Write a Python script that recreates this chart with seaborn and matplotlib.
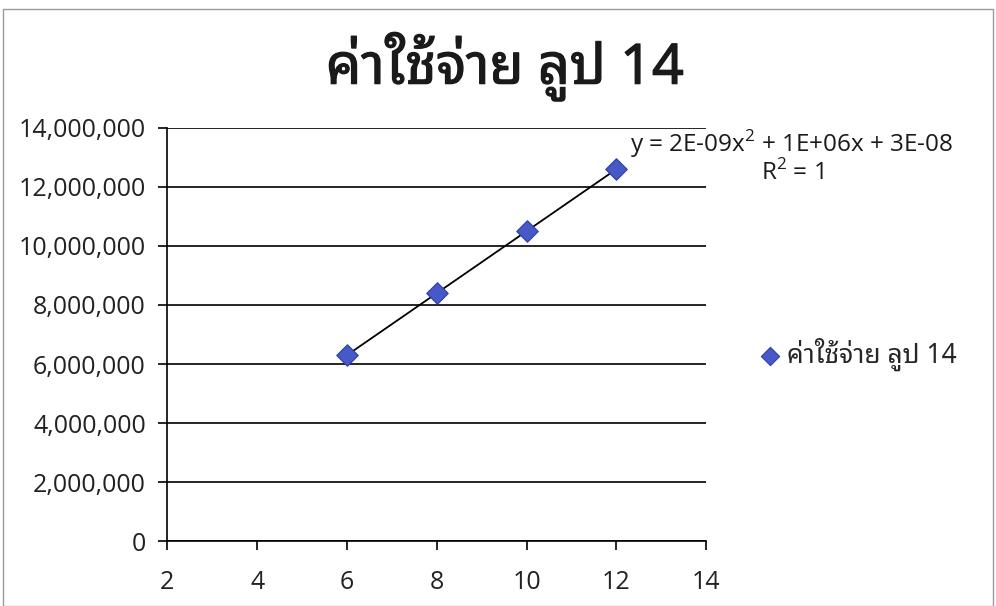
import matplotlib
matplotlib.use("Agg")
import matplotlib.pyplot as plt
from matplotlib import font_manager as fm
from matplotlib.patches import Rectangle
import matplotlib.patheffects as pe
import seaborn as sns
import pandas as pd

# Cost series for loop 14
series_name = "ค่าใช้จ่าย ลูป 14"
x_values = [6, 8, 10, 12]
cost_values = [6300000, 8400000, 10500000, 12600000]
x_ticks = [2, 4, 6, 8, 10, 12, 14]
y_ticks = [0, 2000000, 4000000, 6000000, 8000000, 10000000, 12000000, 14000000]
equation_text = "y = 2E-09x$^{2}$ + 1E+06x + 3E-08"
r2_text = "R$^{2}$ = 1"

# Thai-capable family, looped style first
installed = {f.name for f in fm.fontManager.ttflist}
preferred = ["Noto Sans Thai Looped", "IBM Plex Sans Thai Looped", "Noto Sans Thai",
             "Anuphan", "Sarabun"]
thai_font = next((p for p in preferred if p in installed), "DejaVu Sans")

sns.set_theme(style="white")
base_font = "Open Sans"
plt.rcParams["font.family"] = [base_font, thai_font, "DejaVu Sans"]
plt.rcParams["mathtext.fontset"] = "custom"
plt.rcParams["mathtext.rm"] = base_font

df = pd.DataFrame({"x": x_values, "cost": cost_values})

fig = plt.figure(figsize=(9.96, 6.06), dpi=100)
ax = fig.add_axes([0.168, 0.107, 0.541, 0.682])

sns.regplot(data=df, x="x", y="cost", order=2, ci=None, truncate=True, ax=ax,
            marker="D", label=series_name,
            scatter_kws=dict(s=120, color="#4759c9", edgecolor="#2f3f9e",
                             linewidths=0.8, alpha=1, zorder=4),
            line_kws=dict(color="black", lw=1.3, zorder=3))

ax.set_xlim(2, 14)
ax.set_ylim(0, 14000000)
ax.set_xticks(x_ticks)
ax.set_yticks(y_ticks)
ax.set_yticklabels([f"{v:,}" for v in y_ticks])
ax.set_xlabel("")
ax.set_ylabel("")
ax.grid(axis="y", color="black", lw=1.2)
ax.grid(axis="x", visible=False)
ax.set_axisbelow(True)
for side in ("top", "right"):
    ax.spines[side].set_visible(False)
for side in ("left", "bottom"):
    ax.spines[side].set_color("black")
    ax.spines[side].set_linewidth(1.2)
ax.tick_params(axis="both", which="both", direction="out", length=6.5, width=1.2,
               color="black", labelsize=18, labelcolor="#222222",
               left=True, bottom=True)
ax.tick_params(axis="y", pad=9)
ax.tick_params(axis="x", pad=14)

title = fig.text(0.507, 0.89, series_name, ha="center", va="center", fontsize=40,
                 fontweight="bold", family=[thai_font, base_font, "DejaVu Sans"],
                 color="#1a1a1a")
title.set_path_effects([pe.Stroke(linewidth=0.9, foreground="#1a1a1a"), pe.Normal()])

fig.text(0.795, 0.762, equation_text, ha="center", va="center", fontsize=17.5, color="#1a1a1a")
fig.text(0.795, 0.714, r2_text, ha="center", va="center", fontsize=17.5, color="#1a1a1a")

handles, labels = ax.get_legend_handles_labels()
fig.legend(handles[:1], labels[:1], loc="center left", bbox_to_anchor=(0.765, 0.415),
           frameon=False, handlelength=0.6, handletextpad=0.35, markerscale=0.85,
           borderaxespad=0, borderpad=0,
           prop={"family": [thai_font, base_font], "size": 19})

fig.add_artist(Rectangle((0.003, 0.0), 0.994, 0.985, transform=fig.transFigure,
                         fill=False, edgecolor="#9a9a9a", lw=1.0))

fig.savefig("out.png", dpi=100)
